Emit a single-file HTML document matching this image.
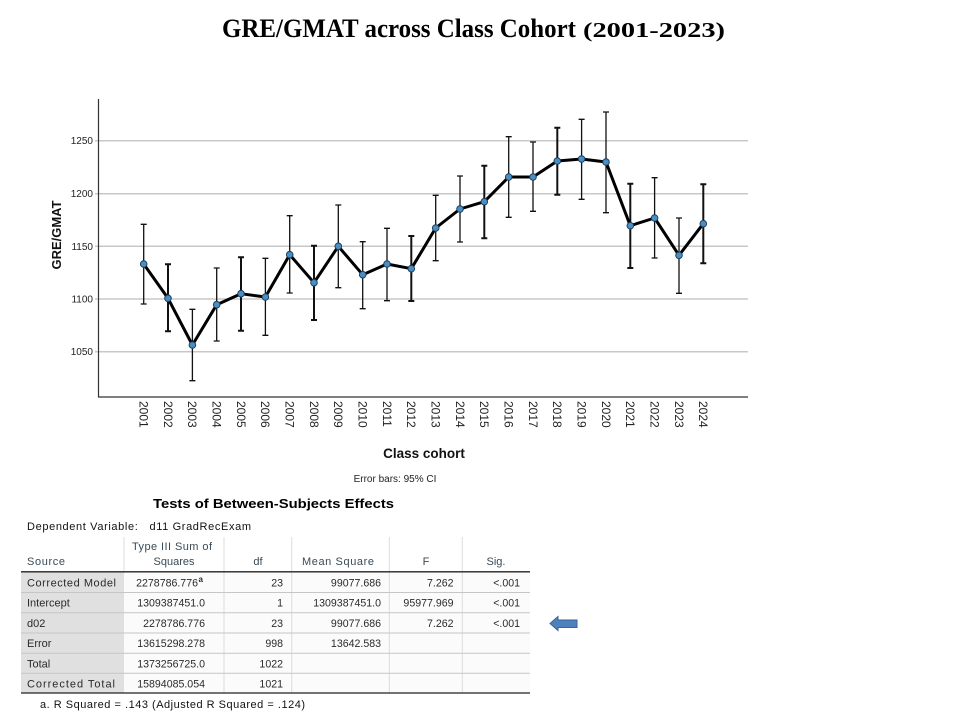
<!DOCTYPE html>
<html>
<head>
<meta charset="utf-8">
<style>
html,body{margin:0;padding:0;background:#fff;}
svg{display:block;}
</style>
</head>
<body>
<svg width="960" height="720" viewBox="0 0 960 720" xmlns="http://www.w3.org/2000/svg">
<rect x="0" y="0" width="960" height="720" fill="#ffffff"/>

<!-- Title -->
<text x="222" y="37" font-family="Liberation Serif, serif" font-weight="bold" font-size="26" fill="#000" textLength="354" lengthAdjust="spacingAndGlyphs">GRE/GMAT across Class Cohort</text>
<text x="583" y="37" font-family="Liberation Serif, serif" font-weight="bold" font-size="21" fill="#000" textLength="142" lengthAdjust="spacingAndGlyphs">(2001-2023)</text>

<!-- Gridlines -->
<g stroke="#c8c8c8" stroke-width="1.5">
<line x1="95" y1="140.7" x2="748" y2="140.7"/>
<line x1="95" y1="193.7" x2="748" y2="193.7"/>
<line x1="95" y1="246.3" x2="748" y2="246.3"/>
<line x1="95" y1="299" x2="748" y2="299"/>
<line x1="95" y1="351.7" x2="748" y2="351.7"/>
</g>

<!-- Axes -->
<line x1="98.5" y1="99" x2="98.5" y2="397" stroke="#333" stroke-width="1.2"/>
<line x1="98" y1="397" x2="748" y2="397" stroke="#333" stroke-width="1.2"/>

<!-- Y tick labels -->
<g font-family="Liberation Sans, Arial, sans-serif" font-size="10" fill="#222" text-anchor="end">
<text x="93" y="144.2">1250</text>
<text x="93" y="197.2">1200</text>
<text x="93" y="249.8">1150</text>
<text x="93" y="302.5">1100</text>
<text x="93" y="355.2">1050</text>
</g>

<!-- Y axis label -->
<text transform="translate(61,235) rotate(-90)" text-anchor="middle" font-family="Liberation Sans, Arial, sans-serif" font-weight="bold" font-size="13" fill="#111">GRE/GMAT</text>

<!-- X tick labels -->
<g font-family="Liberation Sans, Arial, sans-serif" font-size="12" fill="#222">
<text transform="translate(143.7,401) rotate(90)" dy="0.35em">2001</text>
<text transform="translate(168.0,401) rotate(90)" dy="0.35em">2002</text>
<text transform="translate(192.4,401) rotate(90)" dy="0.35em">2003</text>
<text transform="translate(216.7,401) rotate(90)" dy="0.35em">2004</text>
<text transform="translate(241.0,401) rotate(90)" dy="0.35em">2005</text>
<text transform="translate(265.4,401) rotate(90)" dy="0.35em">2006</text>
<text transform="translate(289.7,401) rotate(90)" dy="0.35em">2007</text>
<text transform="translate(314.0,401) rotate(90)" dy="0.35em">2008</text>
<text transform="translate(338.3,401) rotate(90)" dy="0.35em">2009</text>
<text transform="translate(362.7,401) rotate(90)" dy="0.35em">2010</text>
<text transform="translate(387.0,401) rotate(90)" dy="0.35em">2011</text>
<text transform="translate(411.3,401) rotate(90)" dy="0.35em">2012</text>
<text transform="translate(435.7,401) rotate(90)" dy="0.35em">2013</text>
<text transform="translate(460.0,401) rotate(90)" dy="0.35em">2014</text>
<text transform="translate(484.3,401) rotate(90)" dy="0.35em">2015</text>
<text transform="translate(508.7,401) rotate(90)" dy="0.35em">2016</text>
<text transform="translate(533.0,401) rotate(90)" dy="0.35em">2017</text>
<text transform="translate(557.3,401) rotate(90)" dy="0.35em">2018</text>
<text transform="translate(581.6,401) rotate(90)" dy="0.35em">2019</text>
<text transform="translate(606.0,401) rotate(90)" dy="0.35em">2020</text>
<text transform="translate(630.3,401) rotate(90)" dy="0.35em">2021</text>
<text transform="translate(654.6,401) rotate(90)" dy="0.35em">2022</text>
<text transform="translate(679.0,401) rotate(90)" dy="0.35em">2023</text>
<text transform="translate(703.3,401) rotate(90)" dy="0.35em">2024</text>
</g>

<text x="424" y="458" text-anchor="middle" font-family="Liberation Sans, Arial, sans-serif" font-weight="bold" font-size="13.5" fill="#111">Class cohort</text>
<text x="395" y="482" text-anchor="middle" font-family="Liberation Sans, Arial, sans-serif" font-size="10" fill="#222">Error bars: 95% CI</text>

<!-- Error bars -->
<g stroke="#111" stroke-width="1.3" fill="none">
<path d="M143.7 224.3V304 M140.7 224.3h6 M140.7 304h6"/>
<path d="M168.0 264.3V331.3 M165 264.3h6 M165 331.3h6" stroke-width="2"/>
<path d="M192.4 309.3V380.7 M189.4 309.3h6 M189.4 380.7h6"/>
<path d="M216.7 268V341 M213.7 268h6 M213.7 341h6"/>
<path d="M241.0 257.3V330.7 M238 257.3h6 M238 330.7h6" stroke-width="2"/>
<path d="M265.4 258.3V335.3 M262.4 258.3h6 M262.4 335.3h6"/>
<path d="M289.7 215.7V293 M286.7 215.7h6 M286.7 293h6"/>
<path d="M314.0 245.7V320 M311 245.7h6 M311 320h6" stroke-width="2"/>
<path d="M338.3 205V287.7 M335.3 205h6 M335.3 287.7h6"/>
<path d="M362.7 241.7V308.7 M359.7 241.7h6 M359.7 308.7h6"/>
<path d="M387.0 228.3V300.7 M384 228.3h6 M384 300.7h6"/>
<path d="M411.3 236V301 M408.3 236h6 M408.3 301h6" stroke-width="2"/>
<path d="M435.7 195.3V260.7 M432.7 195.3h6 M432.7 260.7h6"/>
<path d="M460.0 176V242 M457 176h6 M457 242h6"/>
<path d="M484.3 165.7V238.3 M481.3 165.7h6 M481.3 238.3h6" stroke-width="2"/>
<path d="M508.7 136.7V217.3 M505.7 136.7h6 M505.7 217.3h6"/>
<path d="M533.0 142V211.3 M530 142h6 M530 211.3h6"/>
<path d="M557.3 127.7V194.7 M554.3 127.7h6 M554.3 194.7h6" stroke-width="2"/>
<path d="M581.6 119.3V199.3 M578.6 119.3h6 M578.6 199.3h6"/>
<path d="M606.0 112V212.7 M603 112h6 M603 212.7h6"/>
<path d="M630.3 183.7V268 M627.3 183.7h6 M627.3 268h6" stroke-width="2"/>
<path d="M654.6 177.7V258 M651.6 177.7h6 M651.6 258h6"/>
<path d="M679.0 218V293.3 M676 218h6 M676 293.3h6"/>
<path d="M703.3 184.3V263.3 M700.3 184.3h6 M700.3 263.3h6" stroke-width="2"/>
</g>

<!-- Mean line -->
<polyline fill="none" stroke="#000" stroke-width="3" stroke-linejoin="round" points="143.7,264 168.0,298.3 192.4,345 216.7,304.7 241.0,293.7 265.4,297 289.7,254.7 314.0,282.7 338.3,246.3 362.7,274.7 387.0,264 411.3,268.7 435.7,228 460.0,209 484.3,201.7 508.7,177 533.0,177 557.3,161 581.6,159 606.0,162 630.3,225.7 654.6,218 679.0,255.3 703.3,223.7"/>

<!-- Markers -->
<g fill="#4a8fc4" stroke="#1c3f5e" stroke-width="1">
<circle cx="143.7" cy="264" r="3.3"/>
<circle cx="168.0" cy="298.3" r="3.3"/>
<circle cx="192.4" cy="345" r="3.3"/>
<circle cx="216.7" cy="304.7" r="3.3"/>
<circle cx="241.0" cy="293.7" r="3.3"/>
<circle cx="265.4" cy="297" r="3.3"/>
<circle cx="289.7" cy="254.7" r="3.3"/>
<circle cx="314.0" cy="282.7" r="3.3"/>
<circle cx="338.3" cy="246.3" r="3.3"/>
<circle cx="362.7" cy="274.7" r="3.3"/>
<circle cx="387.0" cy="264" r="3.3"/>
<circle cx="411.3" cy="268.7" r="3.3"/>
<circle cx="435.7" cy="228" r="3.3"/>
<circle cx="460.0" cy="209" r="3.3"/>
<circle cx="484.3" cy="201.7" r="3.3"/>
<circle cx="508.7" cy="177" r="3.3"/>
<circle cx="533.0" cy="177" r="3.3"/>
<circle cx="557.3" cy="161" r="3.3"/>
<circle cx="581.6" cy="159" r="3.3"/>
<circle cx="606.0" cy="162" r="3.3"/>
<circle cx="630.3" cy="225.7" r="3.3"/>
<circle cx="654.6" cy="218" r="3.3"/>
<circle cx="679.0" cy="255.3" r="3.3"/>
<circle cx="703.3" cy="223.7" r="3.3"/>
</g>

<!-- Table title -->
<text x="153" y="508" font-family="Liberation Sans, Arial, sans-serif" font-weight="bold" font-size="13" fill="#000" textLength="241" lengthAdjust="spacingAndGlyphs">Tests of Between-Subjects Effects</text>
<text x="27" y="530" font-family="Liberation Sans, Arial, sans-serif" font-size="11" fill="#111" textLength="224" lengthAdjust="spacing" xml:space="preserve">Dependent Variable:   d11 GradRecExam</text>

<!-- Table backgrounds -->
<rect x="21" y="572" width="103" height="121" fill="#e0e0e0"/>
<rect x="124" y="572" width="406" height="121" fill="#fbfbfc"/>

<!-- Header separators -->
<g stroke="#dcdcdc" stroke-width="1">
<line x1="124" y1="537" x2="124" y2="572"/>
<line x1="224" y1="537" x2="224" y2="693"/>
<line x1="291.7" y1="537" x2="291.7" y2="693"/>
<line x1="389.3" y1="537" x2="389.3" y2="693"/>
<line x1="462.3" y1="537" x2="462.3" y2="693"/>
</g>
<!-- Row separators -->
<g stroke="#c6c6c6" stroke-width="1">
<line x1="21" y1="592.5" x2="530" y2="592.5"/>
<line x1="21" y1="612.7" x2="530" y2="612.7"/>
<line x1="21" y1="633" x2="530" y2="633"/>
<line x1="21" y1="653.2" x2="530" y2="653.2"/>
<line x1="21" y1="673.3" x2="530" y2="673.3"/>
</g>
<line x1="21" y1="571.8" x2="530" y2="571.8" stroke="#222" stroke-width="1.3"/>
<line x1="21" y1="693" x2="530" y2="693" stroke="#222" stroke-width="1.3"/>

<!-- Header text -->
<g font-family="Liberation Sans, Arial, sans-serif" font-size="11" fill="#3a4a56">
<text x="27" y="565" textLength="38" lengthAdjust="spacing">Source</text>
<text x="132" y="550" textLength="80" lengthAdjust="spacing">Type III Sum of</text>
<text x="174" y="565" text-anchor="middle">Squares</text>
<text x="258" y="565" text-anchor="middle">df</text>
<text x="302" y="565" textLength="72" lengthAdjust="spacing">Mean Square</text>
<text x="426" y="565" text-anchor="middle">F</text>
<text x="496" y="565" text-anchor="middle">Sig.</text>
</g>

<!-- Row labels -->
<g font-family="Liberation Sans, Arial, sans-serif" font-size="11" fill="#2a2a2a">
<text x="27" y="586.5" textLength="89" lengthAdjust="spacing">Corrected Model</text>
<text x="27" y="606.7">Intercept</text>
<text x="27" y="627">d02</text>
<text x="27" y="647.2">Error</text>
<text x="27" y="667.4">Total</text>
<text x="27" y="687.5" textLength="88" lengthAdjust="spacing">Corrected Total</text>
</g>

<!-- Numbers -->
<g font-family="Liberation Sans, Arial, sans-serif" font-size="10.6" fill="#2a2a2a" text-anchor="end">
<text x="198" y="586.5">2278786.776</text>
<text x="205" y="606.7">1309387451.0</text>
<text x="205" y="627">2278786.776</text>
<text x="205" y="647.2">13615298.278</text>
<text x="205" y="667.4">1373256725.0</text>
<text x="205" y="687.5">15894085.054</text>

<text x="283" y="586.5">23</text>
<text x="283" y="606.7">1</text>
<text x="283" y="627">23</text>
<text x="283" y="647.2">998</text>
<text x="283" y="667.4">1022</text>
<text x="283" y="687.5">1021</text>

<text x="381" y="586.5">99077.686</text>
<text x="381" y="606.7">1309387451.0</text>
<text x="381" y="627">99077.686</text>
<text x="381" y="647.2">13642.583</text>

<text x="453.5" y="586.5">7.262</text>
<text x="453.5" y="606.7">95977.969</text>
<text x="453.5" y="627">7.262</text>

<text x="520" y="586.5">&lt;.001</text>
<text x="520" y="606.7">&lt;.001</text>
<text x="520" y="627">&lt;.001</text>
</g>
<text x="198.5" y="582" font-family="Liberation Sans, Arial, sans-serif" font-size="8" font-weight="bold" fill="#2a2a2a">a</text>

<!-- Footnote -->
<text x="40" y="708" font-family="Liberation Sans, Arial, sans-serif" font-size="11" fill="#111" textLength="265" lengthAdjust="spacing">a. R Squared = .143 (Adjusted R Squared = .124)</text>

<!-- Arrow -->
<polygon points="550,623.5 558,616.5 558,620 577,620 577,627.5 558,627.5 558,630.5" fill="#4f81bd" stroke="#3a6496" stroke-width="1"/>
</svg>
</body>
</html>
